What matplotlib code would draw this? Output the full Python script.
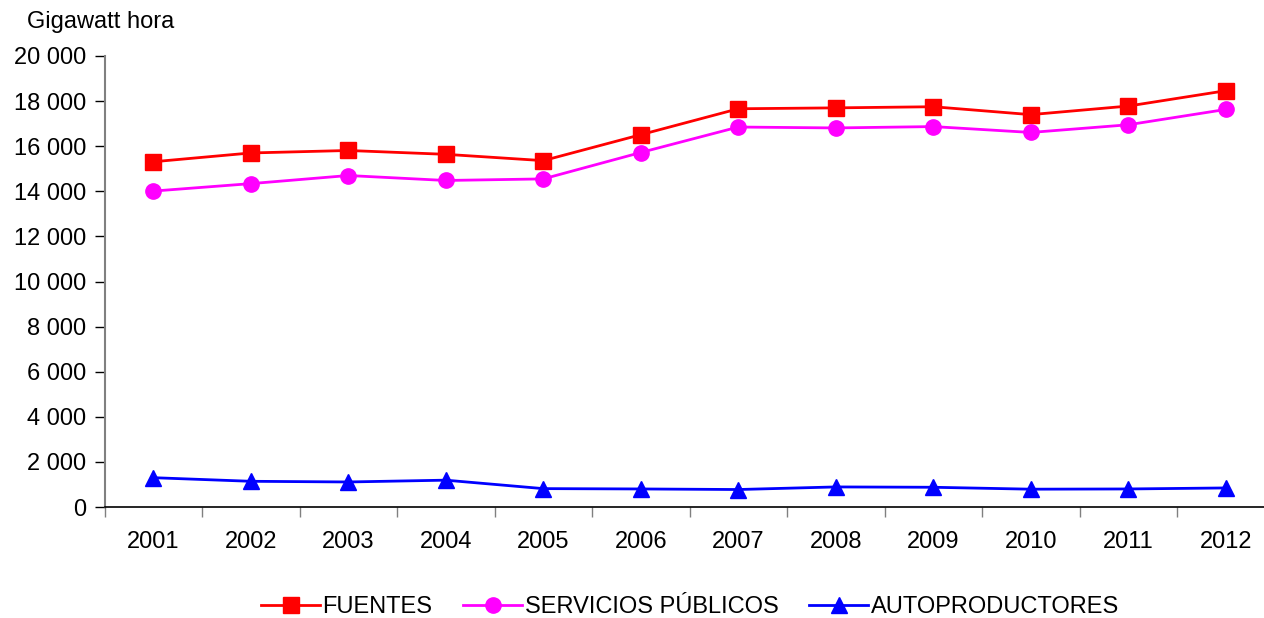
import matplotlib
matplotlib.use("Agg")
import matplotlib.pyplot as plt
from matplotlib.ticker import FuncFormatter, FixedLocator

plt.rcParams['font.family'] = ['Liberation Sans', 'DejaVu Sans']

years = ['2001', '2002', '2003', '2004', '2005', '2006', '2007', '2008', '2009', '2010', '2011', '2012']
fuentes = [15310, 15700, 15810, 15640, 15360, 16510, 17660, 17700, 17750, 17400, 17780, 18460]
servicios = [14010, 14340, 14700, 14480, 14550, 15720, 16850, 16810, 16870, 16610, 16950, 17630]
autoprod = [1300, 1140, 1110, 1190, 815, 800, 775, 890, 875, 790, 800, 845]

fig = plt.figure(figsize=(12.64, 6.18), dpi=100)
ax = fig.add_axes([104.5/1264, 1-507/618, 1170/1264, (507-56)/618])
x = list(range(len(years)))

ax.plot(x, fuentes, color='#ff0000', lw=2, marker='s', ms=11, label='FUENTES', clip_on=False)
ax.plot(x, servicios, color='#ff00ff', lw=2, marker='o', ms=11, label='SERVICIOS PÚBLICOS', clip_on=False)
ax.plot(x, autoprod, color='#0000ff', lw=2, marker='^', ms=12, label='AUTOPRODUCTORES', clip_on=False)

ax.set_xlim(-0.5, len(years)-0.5)
ax.set_ylim(0, 20000)
ax.set_yticks(range(0, 20001, 2000))
ax.yaxis.set_major_formatter(FuncFormatter(lambda v, p: f"{int(v):,}".replace(',', ' ')))
ax.set_xticks(x)
ax.set_xticklabels(years)
ax.xaxis.set_minor_locator(FixedLocator([i - 0.5 for i in range(len(years)+1)]))
ax.tick_params(axis='x', which='major', length=0, pad=17, labelsize=17)
ax.tick_params(axis='x', which='minor', length=7, color='#808080', width=1)
ax.tick_params(axis='y', length=7, width=1, labelsize=17, pad=6)

for s in ['top', 'right']:
    ax.spines[s].set_visible(False)
ax.spines['left'].set_color('#808080')
ax.spines['left'].set_linewidth(1.5)
ax.spines['bottom'].set_color('black')
ax.spines['bottom'].set_linewidth(1.2)

fig.text(27/1264, 1-22/618, 'Gigawatt hora', fontsize=17, va='center', ha='left')

handles, labels = ax.get_legend_handles_labels()
fig.legend(handles, labels, loc='center', bbox_to_anchor=(690/1264, 1-607/618), ncol=3,
           frameon=False, fontsize=17, handlelength=2.5, handletextpad=0.1, columnspacing=1.3)

fig.savefig('out.png', dpi=100)
